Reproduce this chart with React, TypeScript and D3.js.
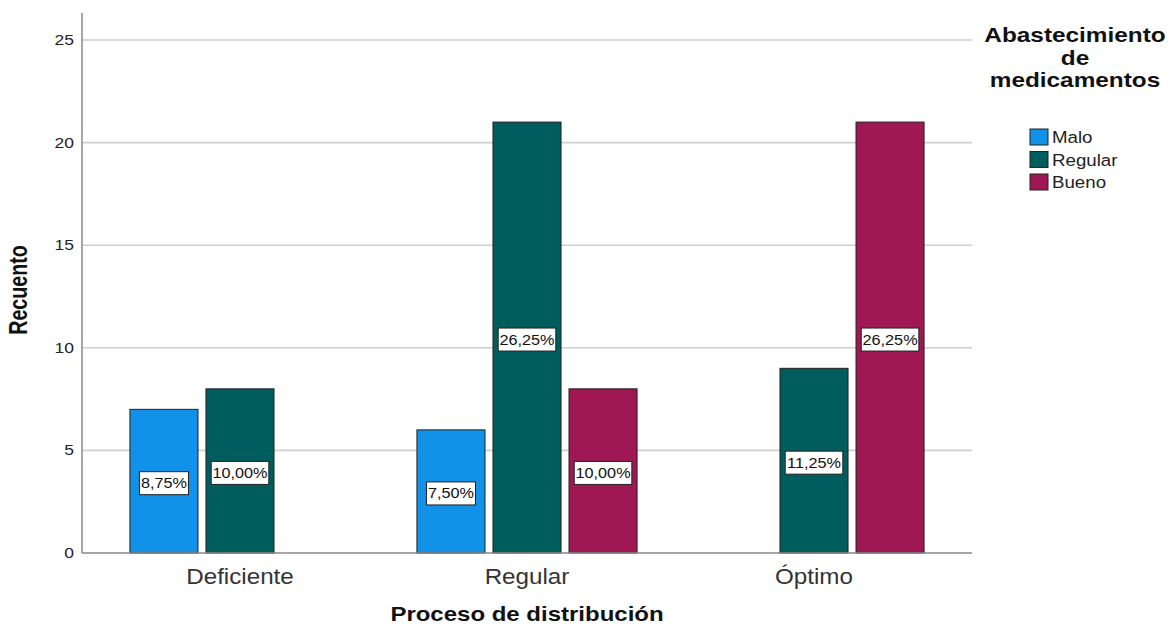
import React from "react";
import * as d3 from "d3";

const categories = ["Deficiente", "Regular", "Óptimo"];
const series = ["Malo", "Regular", "Bueno"];
const malo = [7, 6, 0];
const regular = [8, 21, 9];
const bueno = [0, 8, 21];
const yTicks = [0, 5, 10, 15, 20, 25];
const colors = ["#1192e8", "#005d5d", "#9f1853"];

const W = 1168;
const H = 626;
const left = 82;
const right = 972;
const top = 13;
const bottom = 553;

function SText({ x, y, sx = 1, anchor = "start", size, weight = "normal", fill = "#222", children }: any) {
  return (
    <text transform={`translate(${x},${y}) scale(${sx},1)`} textAnchor={anchor} fontSize={size} fontWeight={weight} fill={fill}>
      {children}
    </text>
  );
}

export default function App() {
  const values = [malo, regular, bueno];
  const total = d3.sum(values.flat());
  const x0 = d3.scaleBand<string>().domain(categories).range([left, right]).paddingInner(0.233).paddingOuter(0.167);
  const x1 = d3.scaleBand<string>().domain(series).range([0, x0.bandwidth()]).paddingInner(0.105).paddingOuter(0);
  const y = d3.scaleLinear().domain([0, 25]).range([bottom, 40]);
  const fmt = (v: number) => ((v / total) * 100).toFixed(2).replace(".", ",") + "%";

  const bars: any[] = [];
  categories.forEach((c, ci) => {
    series.forEach((s, si) => {
      const v = values[si][ci];
      if (v > 0) bars.push({ c, s, si, v });
    });
  });

  return (
    <div style={{ position: "absolute", left: 0, top: 0 }}>
      <svg width={W} height={H} style={{ display: "block", background: "#fff" }} fontFamily="'Liberation Sans', Arial, sans-serif">
        {yTicks.filter((t) => t > 0).map((t) => (
          <line key={t} x1={left} x2={right} y1={y(t)} y2={y(t)} stroke="#cfcfcf" strokeWidth={1.6} />
        ))}
        {yTicks.map((t) => (
          <SText key={"t" + t} x={left - 8} y={y(t) + 5} sx={1.25} anchor="end" size={14} fill="#222">{t}</SText>
        ))}
        {bars.map((b) => {
          const bx = (x0(b.c) as number) + (x1(b.s) as number);
          return (
            <rect key={b.c + b.s} x={bx} y={y(b.v)} width={x1.bandwidth()} height={y(0) - y(b.v)} fill={colors[b.si]} stroke="#222" strokeWidth={1} />
          );
        })}
        <line x1={left} x2={left} y1={top} y2={bottom} stroke="#888" strokeWidth={1.5} />
        <line x1={left} x2={right} y1={bottom} y2={bottom} stroke="#888" strokeWidth={1.5} />
        {bars.map((b) => {
          const cx = (x0(b.c) as number) + (x1(b.s) as number) + x1.bandwidth() / 2;
          const cy = y(b.v / 2) + 2;
          const label = fmt(b.v);
          const w = label.length * 8.6 + 6;
          return (
            <g key={"l" + b.c + b.s}>
              <rect x={cx - w / 2} y={cy - 11.5} width={w} height={23} fill="#fff" stroke="#222" strokeWidth={1} />
              <SText x={cx} y={cy + 5} sx={1.16} anchor="middle" size={14} fill="#111">{label}</SText>
            </g>
          );
        })}
        {categories.map((c) => (
          <SText key={"c" + c} x={(x0(c) as number) + x0.bandwidth() / 2} y={584} sx={1.1} anchor="middle" size={22} fill="#333">{c}</SText>
        ))}
        <SText x={527} y={621} sx={1.2} anchor="middle" size={20} weight="bold" fill="#111">Proceso de distribución</SText>
        <text transform={`translate(27,290) scale(1.28,1) rotate(-90)`} textAnchor="middle" fontSize={19.7} fontWeight="bold" fill="#111">Recuento</text>
        <g>
          {["Abastecimiento", "de", "medicamentos"].map((t, i) => (
            <SText key={t} x={1075} y={42 + i * 22.5} sx={1.16} anchor="middle" size={21} weight="bold" fill="#111">{t}</SText>
          ))}
          {series.map((s, i) => (
            <g key={"lg" + s} transform={`translate(1030, ${129 + i * 22.5})`}>
              <rect x={0} y={0} width={18} height={16} fill={colors[i]} stroke="#222" strokeWidth={1} />
              <SText x={22} y={14} sx={1.1} size={17} fill="#222">{s}</SText>
            </g>
          ))}
        </g>
      </svg>
    </div>
  );
}
